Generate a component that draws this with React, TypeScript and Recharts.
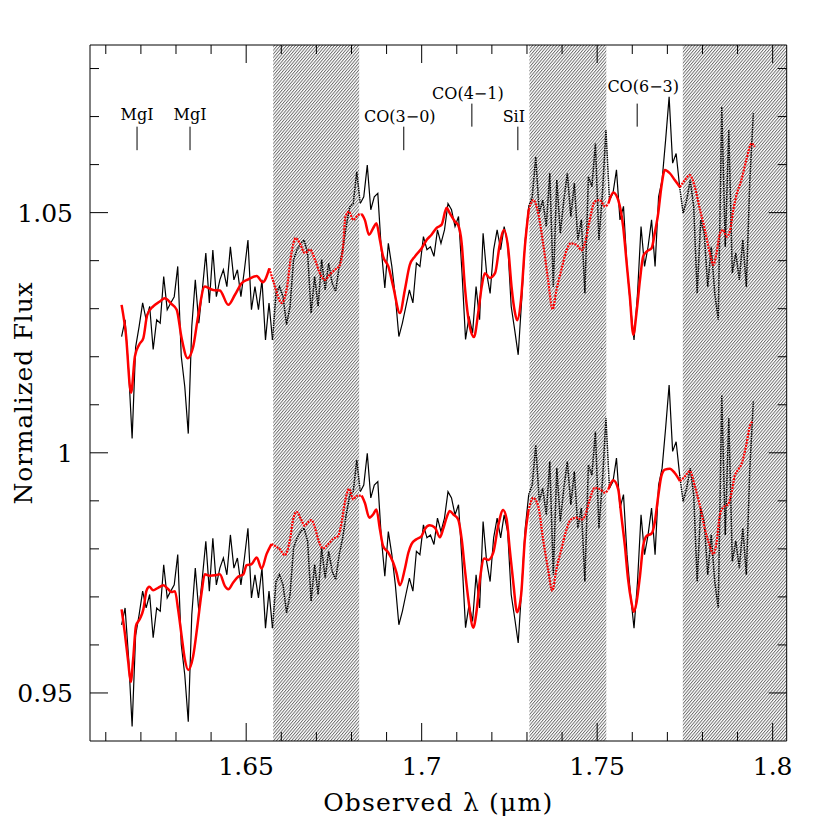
import React from "react";
import { LineChart, Line, XAxis, YAxis, ReferenceArea, ReferenceLine } from "recharts";

// observed spectrum, sampled every 0.001 micron from 1.6145
const LAM_START = 1.6145;
const LAM_STEP = 0.001;
const FLUX_OBS = [
  1.0242, 1.0277, 1.0173, 1.003, 1.022, 1.0263, 1.0312, 1.0277, 1.0305, 1.0215,
  1.0277, 1.027, 1.0367, 1.0298, 1.0312, 1.0325, 1.0388, 1.0201, 1.0138, 1.004,
  1.0263, 1.036, 1.027, 1.0339, 1.0416, 1.0312, 1.0422, 1.0325, 1.036, 1.0381,
  1.0346, 1.0429, 1.036, 1.0381, 1.0325, 1.0381, 1.0443, 1.0298, 1.0346, 1.0298,
  1.036, 1.0235, 1.0312, 1.0235, 1.0332, 1.0346, 1.0325, 1.0267, 1.0305, 1.0402,
  1.0423, 1.0436, 1.0443, 1.0416, 1.0291, 1.0367, 1.0305, 1.0402, 1.0339, 1.0395,
  1.0353, 1.0336, 1.0388, 1.0423, 1.0471, 1.0512, 1.0519, 1.0585, 1.0519, 1.0533,
  1.0599, 1.0506, 1.0533, 1.054, 1.0423, 1.0343, 1.0436, 1.0388, 1.0325, 1.0242,
  1.027, 1.0305, 1.0339, 1.0312, 1.0395, 1.0388, 1.045, 1.0423, 1.0429, 1.0409,
  1.0464, 1.0436, 1.0464, 1.0519, 1.0506, 1.0471, 1.0492, 1.0374, 1.0236, 1.0284,
  1.0249, 1.0346, 1.0277, 1.0457, 1.0374, 1.0332, 1.0423, 1.0464, 1.0423, 1.0471,
  1.0436, 1.0305, 1.0256, 1.0204, 1.0319, 1.0443, 1.0513, 1.0533, 1.0616, 1.0499,
  1.0526, 1.0471, 1.0582, 1.0346, 1.0568, 1.0457, 1.0526, 1.0582, 1.0492, 1.0561,
  1.0443, 1.0485, 1.0332, 1.0575, 1.0554, 1.0644, 1.0443, 1.054, 1.0672, 1.0526,
  1.054, 1.0589, 1.0485, 1.0513, 1.0388, 1.0305, 1.0235, 1.0332, 1.0471, 1.0388,
  1.0429, 1.0485, 1.0388, 1.0533, 1.0568, 1.0651, 1.0741, 1.0603, 1.0623, 1.0554,
  1.0499, 1.0526, 1.0568, 1.0513, 1.0332, 1.0485, 1.0457, 1.0346, 1.0429, 1.0332,
  1.0277, 1.072, 1.0429, 1.0672, 1.0374, 1.0416, 1.036, 1.0443, 1.0346, 1.0568, 1.0707,
];
// the lower panel shows the same spectrum shifted down
const LOWER_SHIFT = 0.06;

// upper model
const MODEL_A_LAM = [
  1.6145, 1.6157, 1.6172, 1.6183, 1.6195, 1.6207, 1.6218, 1.6235, 1.6254, 1.6268,
  1.6287, 1.6302, 1.6316, 1.6333, 1.6349, 1.6363, 1.6382, 1.6406, 1.6425, 1.6449,
  1.6468, 1.6487, 1.6506, 1.653, 1.6547, 1.6566, 1.6579, 1.6601, 1.6615, 1.6629,
  1.6641, 1.6653, 1.6667, 1.6682, 1.6696, 1.671, 1.6724, 1.6738, 1.6753, 1.6767,
  1.6776, 1.6783, 1.6793, 1.6805, 1.6819, 1.6829, 1.6838, 1.685, 1.6862, 1.6871,
  1.6881, 1.689, 1.6905, 1.6919, 1.6938, 1.6952, 1.6966, 1.6981, 1.7, 1.7014,
  1.7028, 1.7042, 1.7057, 1.7071, 1.708, 1.7095, 1.7104, 1.7114, 1.7123, 1.7137,
  1.7149, 1.7161, 1.7171, 1.718, 1.7194, 1.7209, 1.7223, 1.7234, 1.7247, 1.7256,
  1.7266, 1.7272, 1.7283, 1.7294, 1.7305, 1.7318, 1.7332, 1.7346, 1.736, 1.7373,
  1.7384, 1.7398, 1.7413, 1.7425, 1.7441, 1.7456, 1.7465, 1.7479, 1.7493, 1.7508,
  1.7522, 1.7532, 1.7546, 1.756, 1.7574, 1.7584, 1.7593, 1.7603, 1.7612, 1.7622,
  1.7631, 1.7641, 1.7655, 1.7664, 1.7674, 1.7683, 1.7693, 1.7707, 1.7721, 1.7736,
  1.775, 1.7764, 1.7778, 1.7793, 1.7807, 1.7821, 1.7831, 1.784, 1.785, 1.7859,
  1.7869, 1.7878, 1.7888, 1.7897, 1.7911, 1.7925, 1.794, 1.7949,
];
const MODEL_A_FLUX = [
  1.0308, 1.0249, 1.0125, 1.0201, 1.0225, 1.0239, 1.0287, 1.0305, 1.0315, 1.0322,
  1.031, 1.0298, 1.0239, 1.0197, 1.0221, 1.0284, 1.0346, 1.0339, 1.0338, 1.0308,
  1.0329, 1.0353, 1.0361, 1.0368, 1.0355, 1.0384, 1.0353, 1.0312, 1.0339, 1.0416,
  1.0447, 1.0436, 1.0416, 1.0423, 1.0402, 1.0374, 1.036, 1.0371, 1.0381, 1.0391,
  1.0429, 1.0492, 1.0502, 1.0485, 1.0495, 1.0497, 1.0485, 1.0454, 1.0468, 1.0478,
  1.0443, 1.0409, 1.0388, 1.0346, 1.0291, 1.0339, 1.0391, 1.0409, 1.0426, 1.0443,
  1.0454, 1.0468, 1.0475, 1.051, 1.0499, 1.0481, 1.0474, 1.0436, 1.0346, 1.0263,
  1.0241, 1.0291, 1.0346, 1.0374, 1.0364, 1.0374, 1.0436, 1.0464, 1.0422, 1.0346,
  1.0291, 1.0276, 1.0319, 1.0429, 1.0506, 1.0526, 1.0499, 1.0436, 1.036, 1.0299,
  1.0339, 1.0381, 1.0422, 1.0436, 1.0433, 1.0422, 1.0436, 1.0485, 1.0523, 1.0526,
  1.0513, 1.0519, 1.0542, 1.0526, 1.0471, 1.0395, 1.0326, 1.0246, 1.0291, 1.036,
  1.0409, 1.0419, 1.0426, 1.0457, 1.0499, 1.0554, 1.0589, 1.0582, 1.0568, 1.0553,
  1.0568, 1.0578, 1.0554, 1.0506, 1.0464, 1.0416, 1.0391, 1.0416, 1.0457, 1.0464,
  1.045, 1.0461, 1.0506, 1.0537, 1.0568, 1.061, 1.0644, 1.0637,
];

// lower model
const MODEL_B_LAM = [
  1.6145, 1.6154, 1.6164, 1.6171, 1.6178, 1.6186, 1.6197, 1.6207, 1.6216, 1.6224,
  1.6235, 1.6249, 1.6264, 1.6278, 1.6287, 1.6297, 1.6306, 1.6316, 1.6325, 1.6335,
  1.6349, 1.6361, 1.6373, 1.6382, 1.6397, 1.6411, 1.6425, 1.6439, 1.6449, 1.6463,
  1.6477, 1.6492, 1.6501, 1.6515, 1.653, 1.6544, 1.6558, 1.6572, 1.6587, 1.6596,
  1.661, 1.6625, 1.6634, 1.6644, 1.6656, 1.6667, 1.6677, 1.6686, 1.6696, 1.6705,
  1.6719, 1.6734, 1.6748, 1.6762, 1.6772, 1.6781, 1.6793, 1.6805, 1.6814, 1.6829,
  1.6838, 1.6851, 1.6862, 1.6871, 1.6881, 1.689, 1.6905, 1.6919, 1.6928, 1.6938,
  1.6952, 1.6962, 1.6971, 1.6985, 1.7, 1.7009, 1.7023, 1.7038, 1.7052, 1.7061,
  1.7071, 1.708, 1.709, 1.7104, 1.7114, 1.7123, 1.7133, 1.7147, 1.7156, 1.7166,
  1.7178, 1.719, 1.7204, 1.7218, 1.7232, 1.7242, 1.7251, 1.7261, 1.7272, 1.7283,
  1.7294, 1.7304, 1.7318, 1.7332, 1.7346, 1.736, 1.7372, 1.7384, 1.7398, 1.7413,
  1.7425, 1.7441, 1.7456, 1.7465, 1.7479, 1.7493, 1.7508, 1.7522, 1.7532, 1.7546,
  1.756, 1.7569, 1.7579, 1.7588, 1.7598, 1.7604, 1.7612, 1.7622, 1.7631, 1.7641,
  1.7655, 1.7664, 1.7674, 1.7683, 1.7693, 1.7707, 1.7721, 1.7736, 1.775, 1.7764,
  1.7778, 1.7793, 1.7807, 1.7821, 1.7831, 1.784, 1.785, 1.7859, 1.7873, 1.7883,
  1.7892, 1.7902, 1.7911, 1.7925, 1.7935, 1.7944,
];
const MODEL_B_FLUX = [
  0.9674, 0.9626, 0.9564, 0.9523, 0.9571, 0.964, 0.9654, 0.9674, 0.9713, 0.9721,
  0.9714, 0.9719, 0.9724, 0.9716, 0.971, 0.9712, 0.9674, 0.9619, 0.9571, 0.9548,
  0.9577, 0.964, 0.9709, 0.9747, 0.9744, 0.9745, 0.9747, 0.9723, 0.9716, 0.973,
  0.9742, 0.9747, 0.9766, 0.9768, 0.9782, 0.9759, 0.9789, 0.981, 0.9804, 0.9799,
  0.9787, 0.982, 0.9862, 0.9877, 0.9862, 0.9848, 0.9856, 0.986, 0.9844, 0.982,
  0.9801, 0.981, 0.9821, 0.9827, 0.9855, 0.9896, 0.9925, 0.9903, 0.991, 0.9911,
  0.9896, 0.9865, 0.9872, 0.9882, 0.9841, 0.9806, 0.9792, 0.9771, 0.9751, 0.9724,
  0.9758, 0.9792, 0.981, 0.982, 0.9827, 0.9841, 0.9849, 0.9844, 0.9824, 0.9841,
  0.9865, 0.9879, 0.9872, 0.9861, 0.982, 0.9758, 0.9695, 0.9636, 0.9668, 0.9737,
  0.978, 0.9777, 0.9792, 0.9848, 0.9881, 0.9862, 0.9799, 0.973, 0.9668, 0.9702,
  0.982, 0.9879, 0.9906, 0.9889, 0.982, 0.9758, 0.9713, 0.9758, 0.9799, 0.9841,
  0.9861, 0.9865, 0.9861, 0.9868, 0.9903, 0.9927, 0.9924, 0.9917, 0.9924, 0.9943,
  0.9924, 0.9868, 0.9806, 0.9737, 0.9688, 0.9669, 0.9688, 0.9744, 0.9806, 0.9827,
  0.9832, 0.9855, 0.991, 0.9952, 0.9965, 0.9967, 0.9958, 0.9941, 0.9951, 0.9962,
  0.9931, 0.9889, 0.9841, 0.9806, 0.9789, 0.9813, 0.9872, 0.9886, 0.9893, 0.9917,
  0.9952, 0.9965, 0.9976, 1.0017, 1.0055, 1.0066,
];

// telluric regions (hatched)
const BANDS: [number, number][] = [
  [1.6577, 1.6822],
  [1.7307, 1.7526],
  [1.7744, 1.804],
];

// line identifications: name, wavelength, marker bottom/top
const LINE_NAMES = ["MgI", "MgI", "CO(3\u22120)", "CO(4\u22121)", "SiI", "CO(6\u22123)"];
const LINE_LAM = [1.6189, 1.634, 1.6949, 1.7143, 1.7274, 1.7614];
const LINE_LO = [1.063, 1.063, 1.063, 1.0679, 1.063, 1.0679];
const LINE_HI = [1.0679, 1.0679, 1.0679, 1.0727, 1.0679, 1.0727];
const LINE_GAP = [7, 7, 5, 5, 5, 12];
const LINE_DX = [0, 0, -4, -4, -4, 6];

const X_DOMAIN: [number, number] = [1.6055, 1.804];
const Y_DOMAIN: [number, number] = [0.94, 1.0849];
const X_TICKS = [
  1.61, 1.62, 1.63, 1.64, 1.65, 1.66, 1.67, 1.68, 1.69, 1.7,
  1.71, 1.72, 1.73, 1.74, 1.75, 1.76, 1.77, 1.78, 1.79, 1.8,
];
const Y_TICKS = [
  0.95, 0.96, 0.97, 0.98, 0.99, 1.0, 1.01, 1.02, 1.03, 1.04, 1.05, 1.06, 1.07, 1.08,
];

const FONT = "'DejaVu Serif', serif";
const MAJOR = 18;
const MINOR = 9;

const isMajor = (v: number) => Math.abs(v * 20 - Math.round(v * 20)) < 1e-6;
const fmt = (v: number) => String(+v.toFixed(2));
const inBand = (lam: number) => BANDS.some(([a, b]) => lam >= a && lam <= b);

// solid outside the hatched regions, dotted inside them
function split(lams: number[], vals: number[]) {
  const inside = lams.map(inBand);
  const solid = lams.map((lam, i) => ({ lam, v: inside[i] ? null : vals[i] }));
  const dotted = lams.map((lam, i) => {
    const near = inside[i] || (i > 0 && inside[i - 1]) || (i < lams.length - 1 && inside[i + 1]);
    return { lam, v: near ? vals[i] : null };
  });
  return { solid, dotted };
}

const obsLam = FLUX_OBS.map((_, i) => +(LAM_START + i * LAM_STEP).toFixed(4));
const obsUpper = split(obsLam, FLUX_OBS);
const obsLower = split(obsLam, FLUX_OBS.map((f) => +(f - LOWER_SHIFT).toFixed(4)));
const modelA = split(MODEL_A_LAM, MODEL_A_FLUX);
const modelB = split(MODEL_B_LAM, MODEL_B_FLUX);

const BottomTick = (p: any) => {
  const v = p.payload.value;
  const major = isMajor(v);
  return (
    <g>
      <line x1={p.x} x2={p.x} y1={p.y} y2={p.y - (major ? MAJOR : MINOR)} stroke="#000" />
      {major && (
        <text x={p.x} y={p.y + 34} textAnchor="middle" fontSize={25} fontFamily={FONT} fill="#000">
          {fmt(v)}
        </text>
      )}
    </g>
  );
};

const TopTick = (p: any) => {
  const major = isMajor(p.payload.value);
  return <line x1={p.x} x2={p.x} y1={p.y} y2={p.y + (major ? MAJOR : MINOR)} stroke="#000" />;
};

const LeftTick = (p: any) => {
  const v = p.payload.value;
  const major = isMajor(v);
  return (
    <g>
      <line x1={p.x} x2={p.x + (major ? MAJOR : MINOR)} y1={p.y} y2={p.y} stroke="#000" />
      {major && (
        <text x={p.x - 17} y={p.y + 9} textAnchor="end" fontSize={25} fontFamily={FONT} fill="#000">
          {fmt(v)}
        </text>
      )}
    </g>
  );
};

const RightTick = (p: any) => {
  const major = isMajor(p.payload.value);
  return <line x1={p.x} x2={p.x - (major ? MAJOR : MINOR)} y1={p.y} y2={p.y} stroke="#000" />;
};

const LineTag = (p: any) => {
  const vb = p.viewBox || {};
  return (
    <text
      x={vb.x + p.dx}
      y={vb.y - p.gap}
      textAnchor="middle"
      fontSize={16}
      fontFamily={FONT}
      fill="#000"
    >
      {p.text}
    </text>
  );
};

const W = 814;
const H = 814;

export default function App() {
  const common = { xAxisId: "b", yAxisId: "l", dataKey: "v", dot: false, activeDot: false, isAnimationActive: false } as const;
  const axisCommon = {
    type: "number" as const,
    allowDataOverflow: true,
    interval: 0 as const,
    tickSize: 0,
    tickMargin: 0,
    tickLine: false,
    axisLine: { stroke: "#000", strokeWidth: 1 },
  };
  return (
    <div style={{ position: "relative", width: W, height: H }}>
      <LineChart width={W} height={H} margin={{ top: 36, right: 34.3, bottom: 80, left: 81 }}>
        <defs>
          <pattern id="hatch" patternUnits="userSpaceOnUse" width="2.3" height="10" patternTransform="rotate(40)">
            <rect width="2.3" height="10" fill="#fff" />
            <line x1="0.5" y1="0" x2="0.5" y2="10" stroke="#555" strokeWidth="0.8" />
          </pattern>
        </defs>
        <XAxis {...axisCommon} xAxisId="b" orientation="bottom" dataKey="lam" domain={X_DOMAIN} ticks={X_TICKS} height={1} tick={BottomTick} />
        <XAxis {...axisCommon} xAxisId="t" orientation="top" dataKey="lam" domain={X_DOMAIN} ticks={X_TICKS} height={1} tick={TopTick} />
        <YAxis {...axisCommon} yAxisId="l" orientation="left" domain={Y_DOMAIN} ticks={Y_TICKS} width={1} tick={LeftTick} />
        <YAxis {...axisCommon} yAxisId="r" orientation="right" domain={Y_DOMAIN} ticks={Y_TICKS} width={1} tick={RightTick} />
        {BANDS.map(([a, b], i) => (
          <ReferenceArea
            key={"band" + i}
            xAxisId="b"
            yAxisId="l"
            x1={a}
            x2={b}
            fill="url(#hatch)"
            fillOpacity={1}
            stroke="none"
            ifOverflow="hidden"
          />
        ))}
        <Line {...common} data={obsUpper.solid} type="linear" stroke="#000" strokeWidth={1.2} />
        <Line {...common} data={obsUpper.dotted} type="linear" stroke="#000" strokeWidth={1.5} strokeDasharray="1.5 0.8" />
        <Line {...common} data={obsLower.solid} type="linear" stroke="#000" strokeWidth={1.2} />
        <Line {...common} data={obsLower.dotted} type="linear" stroke="#000" strokeWidth={1.5} strokeDasharray="1.5 0.8" />
        <Line {...common} data={modelA.solid} type="monotone" stroke="#ff0000" strokeWidth={2.5} />
        <Line {...common} data={modelA.dotted} type="monotone" stroke="#ff0000" strokeWidth={2.2} strokeDasharray="2 1" />
        <Line {...common} data={modelB.solid} type="monotone" stroke="#ff0000" strokeWidth={2.5} />
        <Line {...common} data={modelB.dotted} type="monotone" stroke="#ff0000" strokeWidth={2.2} strokeDasharray="2 1" />
        {LINE_NAMES.map((name, i) => (
          <ReferenceLine
            key={"id" + i}
            xAxisId="b"
            yAxisId="l"
            segment={[
              { x: LINE_LAM[i], y: LINE_LO[i] },
              { x: LINE_LAM[i], y: LINE_HI[i] },
            ]}
            stroke="#000"
            strokeWidth={1}
            label={<LineTag text={name} gap={LINE_GAP[i]} dx={LINE_DX[i]} />}
          />
        ))}
      </LineChart>
      <svg
        width={W}
        height={H}
        style={{ position: "absolute", left: 0, top: 0, pointerEvents: "none" }}
      >
        <text x={430.3} y={803} textAnchor="middle" fontSize={25} fontFamily={FONT} letterSpacing={1.2} fill="#000">
          Observed {"\u03BB"} ({"\u03BC"}m)
        </text>
        <text
          x={24}
          y={385}
          transform="rotate(-90 24 385)"
          textAnchor="middle"
          fontSize={25}
          fontFamily={FONT}
          letterSpacing={0.8}
          fill="#000"
        >
          Normalized Flux
        </text>
      </svg>
    </div>
  );
}
